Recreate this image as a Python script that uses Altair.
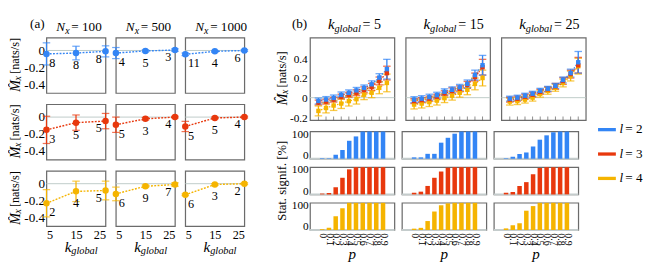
import altair as alt
import pandas as pd

FONT = "Liberation Serif"
SERIES = ["l = 2", "l = 3", "l = 4"]
COLORS = ["#3385f5", "#e8380d", "#f5b400"]
GRID = "#bccac6"
K_GLOBAL = [5, 15, 25]
N_X = [100, 500, 1000]
P_VALUES = [0.0, 0.1, 0.2, 0.3, 0.4, 0.5, 0.6, 0.7, 0.8, 0.9]

# ---------- panel (a): one inner list per N_x (100, 500, 1000), values at k_global = 5, 15, 25
a_mean_l2 = [[-0.04, -0.03, -0.01], [-0.03, -0.005, 0.005], [-0.045, -0.01, 0.0]]
a_err_l2 = [[0.13, 0.08, 0.065], [0.065, 0.012, 0.015], [0.015, 0.01, 0.01]]
a_count_l2 = [[8, 8, 8], [4, 5, 3], [11, 4, 6]]
a_mean_l3 = [[-0.15, -0.065, -0.047], [-0.09, -0.02, 0.0], [-0.11, -0.01, 0.0]]
a_err_l3 = [[0.16, 0.09, 0.09], [0.09, 0.015, 0.01], [0.06, 0.01, 0.01]]
a_count_l3 = [[3, 5, 5], [5, 3, 4], [5, 5, 4]]
a_mean_l4 = [[-0.23, -0.09, -0.08], [-0.12, -0.03, -0.01], [-0.13, -0.01, 0.0]]
a_err_l4 = [[0.16, 0.12, 0.11], [0.08, 0.015, 0.02], [0.01, 0.01, 0.01]]
a_count_l4 = [[2, 4, 5], [6, 9, 7], [6, 3, 2]]

# ---------- panel (b) top: mean estimate vs p
b_mean_k5_l2 = [-0.034, -0.019, -0.003, 0.028, 0.049, 0.074, 0.099, 0.136, 0.204, 0.29]
b_err_k5_l2 = [0.03, 0.03, 0.03, 0.03, 0.03, 0.03, 0.03, 0.035, 0.04, 0.1]
b_mean_k5_l3 = [-0.05, -0.04, -0.02, 0.01, 0.03, 0.05, 0.08, 0.11, 0.17, 0.25]
b_err_k5_l3 = [0.025, 0.025, 0.025, 0.025, 0.025, 0.03, 0.03, 0.035, 0.04, 0.07]
b_mean_k5_l4 = [-0.135, -0.105, -0.08, -0.06, -0.035, -0.015, 0.03, 0.05, 0.10, 0.15]
b_err_k5_l4 = [0.05, 0.05, 0.05, 0.05, 0.05, 0.05, 0.05, 0.05, 0.06, 0.09]
b_mean_k15_l2 = [-0.02, -0.01, 0.005, 0.025, 0.06, 0.08, 0.105, 0.14, 0.23, 0.33]
b_err_k15_l2 = [0.03, 0.03, 0.03, 0.03, 0.03, 0.03, 0.03, 0.04, 0.05, 0.1]
b_mean_k15_l3 = [-0.035, -0.025, -0.01, 0.01, 0.045, 0.07, 0.09, 0.13, 0.21, 0.31]
b_err_k15_l3 = [0.025, 0.025, 0.025, 0.025, 0.025, 0.03, 0.03, 0.035, 0.04, 0.08]
b_mean_k15_l4 = [-0.07, -0.06, -0.045, -0.03, -0.005, 0.02, 0.05, 0.08, 0.14, 0.2]
b_err_k15_l4 = [0.045, 0.045, 0.045, 0.045, 0.045, 0.045, 0.045, 0.05, 0.06, 0.08]
b_mean_k25_l2 = [-0.01, 0.0, 0.02, 0.04, 0.07, 0.09, 0.12, 0.18, 0.25, 0.36]
b_err_k25_l2 = [0.025, 0.025, 0.025, 0.025, 0.025, 0.025, 0.025, 0.03, 0.04, 0.11]
b_mean_k25_l3 = [-0.02, -0.01, 0.01, 0.03, 0.06, 0.085, 0.115, 0.17, 0.24, 0.33]
b_err_k25_l3 = [0.025, 0.025, 0.025, 0.025, 0.025, 0.025, 0.03, 0.035, 0.04, 0.08]
b_mean_k25_l4 = [-0.04, -0.035, -0.02, 0.0, 0.04, 0.07, 0.1, 0.15, 0.22, 0.32]
b_err_k25_l4 = [0.035, 0.035, 0.035, 0.035, 0.035, 0.035, 0.035, 0.04, 0.05, 0.08]

# ---------- panel (b) bottom: statistical significance [%]
sig_k5_l2 = [2, 2, 15, 32, 66, 82, 100, 100, 100, 100]
sig_k5_l3 = [3, 5, 26, 61, 92, 100, 100, 100, 100, 100]
sig_k5_l4 = [3, 8, 51, 80, 100, 100, 100, 100, 100, 100]
sig_k15_l2 = [5, 5, 18, 18, 59, 77, 92, 100, 100, 100]
sig_k15_l3 = [6, 10, 31, 61, 84, 98, 100, 100, 100, 100]
sig_k15_l4 = [5, 8, 33, 68, 91, 98, 100, 100, 100, 100]
sig_k25_l2 = [2, 7, 17, 23, 45, 70, 86, 97, 100, 100]
sig_k25_l3 = [6, 9, 31, 45, 74, 97, 100, 100, 100, 100]
sig_k25_l4 = [6, 18, 25, 71, 88, 100, 100, 100, 100, 100]

# ---------- tables
a_mean = [a_mean_l2, a_mean_l3, a_mean_l4]
a_err = [a_err_l2, a_err_l3, a_err_l4]
a_count = [a_count_l2, a_count_l3, a_count_l4]
rows = []
for si, s in enumerate(SERIES):
    for ni, nx in enumerate(N_X):
        for ki, k in enumerate(K_GLOBAL):
            m, e = a_mean[si][ni][ki], a_err[si][ni][ki]
            rows.append({"series": s, "nx": nx, "nx_label": f"= {nx}", "k": k, "mean": m,
                         "lo": m - e, "hi": m + e, "count": str(a_count[si][ni][ki])})
df_a = pd.DataFrame(rows)

b_mean = {5: [b_mean_k5_l2, b_mean_k5_l3, b_mean_k5_l4],
          15: [b_mean_k15_l2, b_mean_k15_l3, b_mean_k15_l4],
          25: [b_mean_k25_l2, b_mean_k25_l3, b_mean_k25_l4]}
b_err = {5: [b_err_k5_l2, b_err_k5_l3, b_err_k5_l4],
         15: [b_err_k15_l2, b_err_k15_l3, b_err_k15_l4],
         25: [b_err_k25_l2, b_err_k25_l3, b_err_k25_l4]}
sig = {5: [sig_k5_l2, sig_k5_l3, sig_k5_l4],
       15: [sig_k15_l2, sig_k15_l3, sig_k15_l4],
       25: [sig_k25_l2, sig_k25_l3, sig_k25_l4]}
rows_b, rows_s = [], []
for k in K_GLOBAL:
    for si in [2, 1, 0]:
        for pi, p in enumerate(P_VALUES):
            m, e = b_mean[k][si][pi], b_err[k][si][pi]
            rows_b.append({"k": k, "k_label": f"= {k}", "series": SERIES[si], "p": p,
                           "mean": m, "lo": m - e, "hi": m + e})
            rows_s.append({"k": k, "series": SERIES[si], "p": p, "sig": sig[k][si][pi]})
df_b = pd.DataFrame(rows_b)
df_s = pd.DataFrame(rows_s)

LBL = ("datum.value == 0 ? '0' : (datum.value < 0 ? '-' + format(-datum.value, '.1f') "
       ": format(datum.value, '.1f'))")
PLBL = "datum.value == 0 ? '0' : format(datum.value, '.1f')"
col = alt.Color("series:N", scale=alt.Scale(domain=SERIES, range=COLORS), legend=None)
base = alt.Chart()


def note(x, y, filt, text=None, field=None, size=14, italic=False, angle=0,
         align="left", baseline="alphabetic"):
    mk = dict(align=align, baseline=baseline, fontSize=size, font=FONT, color="black")
    if italic:
        mk["fontStyle"] = "italic"
    if angle:
        mk["angle"] = angle
    if text is not None:
        mk["text"] = text
    enc = dict(x=alt.value(x), y=alt.value(y))
    if field is not None:
        enc["text"] = alt.Text(f"{field}:N")
    return base.mark_text(**mk).encode(**enc).transform_filter(filt)


# ================= panel (a)
W_A, H_A = 63, 59


def ax_ax(field):
    return alt.X(f"{field}:Q", scale=alt.Scale(domain=[5, 25], nice=False, zero=False),
                 axis=alt.Axis(values=K_GLOBAL, title=None, ticks=False, domain=False, grid=False,
                               labelFlush=True, labelFontSize=13, labelPadding=3))


def ax_ay(field):
    return alt.Y(f"{field}:Q", scale=alt.Scale(domain=[-0.5, 0.15], nice=False, zero=False),
                 axis=alt.Axis(values=[0, -0.2, -0.4], title=None, ticks=False, domain=False,
                               grid=False, labelExpr=LBL, labelFontSize=14, labelPadding=2))


a_zero = base.mark_rule(color=GRID, strokeWidth=1).transform_filter(
    alt.datum.k == 5).transform_calculate(zero="0").encode(y=ax_ay("zero"))
a_line = base.mark_line(strokeDash=[2, 1.5], strokeWidth=1.5).encode(
    x=ax_ax("k"), y=ax_ay("mean"), color=col)
a_err_l = base.mark_errorbar(ticks=True, size=8, thickness=1.3).encode(
    x=ax_ax("k"), y=ax_ay("lo"), y2="hi:Q", color=col)
a_pts = base.mark_circle(size=48, opacity=1).encode(x=ax_ax("k"), y=ax_ay("mean"), color=col)


def a_num(kv, align, dx, dy):
    return base.mark_text(align=align, baseline="middle", dx=dx, dy=dy, fontSize=13,
                          font=FONT, color="black").encode(
        x=ax_ax("k"), y=ax_ay("mean"), text="count:N").transform_filter(alt.datum.k == kv)


first_cell = (alt.datum.nx == 100) & (alt.datum.k == 5) & (alt.datum.series == "l = 2")
head_a = (alt.datum.k == 5) & (alt.datum.series == "l = 2")
ytit_a = (alt.datum.nx == 100) & (alt.datum.k == 5)
xtit_a = (alt.datum.k == 5) & (alt.datum.series == "l = 4")

layers_a = [
    a_zero, a_line, a_err_l, a_pts,
    a_num(5, "left", 3, 10), a_num(15, "center", 0, 13), a_num(25, "right", -4, 8),
    note(-2, -14, first_cell, text="(a)", size=14, align="right", baseline="middle"),
    note(W_A / 2 - 21, -7, head_a, text="N", size=14, italic=True),
    note(W_A / 2 - 11.5, -4.5, head_a, text="x", size=10.5, italic=True),
    note(W_A / 2 - 5, -7, head_a, field="nx_label", size=14),
    note(-33, H_A / 2 + 28, ytit_a, text="M\u0302", size=15, italic=True, angle=270,
         baseline="middle"),
    note(-30, H_A / 2 + 16, ytit_a, text="x", size=10.5, italic=True, angle=270,
         baseline="middle"),
    note(-33, H_A / 2 + 9, ytit_a, text="[nats/s]", size=13, angle=270, baseline="middle"),
    note(W_A / 2 - 12, H_A + 27, xtit_a, text="k", size=16, italic=True),
    note(W_A / 2 - 5, H_A + 30, xtit_a, text="global", size=11, italic=True),
]
chart_a = alt.layer(*layers_a).properties(width=W_A, height=H_A).facet(
    row=alt.Row("series:N", sort=SERIES, header=None),
    column=alt.Column("nx:O", header=None),
    data=df_a, spacing={"row": 12, "column": 11}, bounds="flush")

# ================= panel (b) top (three separate panels)
W_B, H_B, H_S = 90, 88, 29
XB = alt.Scale(domain=[-0.11, 1.0], nice=False, zero=False)
TX = -30  # x of the rotated y titles of panel (b)


def ax_bx(field):
    return alt.X(f"{field}:Q", scale=XB,
                 axis=alt.Axis(values=P_VALUES, labels=False, title=None, domain=False, grid=False,
                               ticks=False))


def ax_by(field, show):
    return alt.Y(f"{field}:Q", scale=alt.Scale(domain=[-0.23, 0.61], nice=False, zero=False),
                 axis=alt.Axis(values=[-0.2, 0, 0.2, 0.4], title=None, domain=False, grid=False,
                               ticks=False, labels=show, labelExpr=LBL, labelFontSize=12,
                               labelPadding=3))


one_b = (alt.datum.p == 0) & (alt.datum.series == "l = 2")


def top_panel(kv, first):
    layers = [
        base.mark_rule(color=GRID, strokeWidth=1).transform_filter(one_b).transform_calculate(
            zero="0").encode(y=ax_by("zero", first)),
        base.mark_tick(orient="vertical", size=4, thickness=1, color="#555").transform_filter(
            alt.datum.series == "l = 2").encode(x=ax_bx("p"), y=alt.value(H_B - 2)),
        base.mark_line(strokeDash=[1.5, 1.5], strokeWidth=1.3).encode(
            x=ax_bx("p"), y=ax_by("mean", first), color=col),
        base.mark_errorbar(ticks=True, size=8, thickness=1.4).encode(
            x=ax_bx("p"), y=ax_by("lo", first), y2="hi:Q", color=col),
        base.mark_point(filled=True, shape="square", size=22, opacity=1).encode(
            x=ax_bx("p"), y=ax_by("mean", first), color=col),
        note(W_B / 2 - 26, -9, one_b, text="k", size=16, italic=True),
        note(W_B / 2 - 19, -6, one_b, text="global", size=11, italic=True),
        note(W_B / 2 + 11, -9, one_b, field="k_label", size=15),
    ]
    if first:
        layers += [
            note(-3, -14, one_b, text="(b)", size=14, align="right", baseline="middle"),
            note(TX, H_B / 2 + 28, one_b, text="M\u0302", size=15, italic=True, angle=270,
                 baseline="middle"),
            note(TX + 3, H_B / 2 + 16, one_b, text="x", size=10.5, italic=True, angle=270,
                 baseline="middle"),
            note(TX, H_B / 2 + 9, one_b, text="[nats/s]", size=13, angle=270,
                 baseline="middle"),
        ]
    return alt.layer(*layers, data=df_b).transform_filter(alt.datum.k == kv).properties(
        width=W_B, height=H_B)


chart_b_top = alt.hconcat(*[top_panel(k, i == 0) for i, k in enumerate(K_GLOBAL)], spacing=8)

# ================= panel (b) bars


def ax_sx(field):
    return alt.X(f"{field}:Q", scale=XB,
                 axis=alt.Axis(values=P_VALUES, title=None, domain=False, grid=False, ticks=False,
                               labelAngle=90, labelFontSize=10.5, labelOverlap=False,
                               labelPadding=3, labelExpr=PLBL))


def ax_sy(field):
    return alt.Y(f"{field}:Q", scale=alt.Scale(domain=[0, 100], nice=False, zero=True),
                 axis=alt.Axis(values=[0, 100], title=None, domain=False, grid=False, ticks=False,
                               labelFontSize=12, labelPadding=2, labelFlush=True,
                               labelFlushOffset=3))


s_base = base.mark_rule(color="#c4cccc", strokeWidth=2).transform_filter(
    alt.datum.p == 0).transform_calculate(zero="0").encode(y=ax_sy("zero"))
s_bars = base.mark_bar(size=4.8).encode(x=ax_sx("p"), y=ax_sy("sig"), color=col)
mid_s = (alt.datum.p == 0) & (alt.datum.series == "l = 3") & (alt.datum.k == 5)
bot_s = (alt.datum.p == 0) & (alt.datum.series == "l = 4")
layers_s = [
    s_base, s_bars,
    note(TX, H_S / 2, mid_s, text="Stat. signif. [%]", size=13.5, angle=270, align="center",
         baseline="middle"),
    note(W_B / 2, H_S + 31, bot_s, text="p", size=16, italic=True, align="center"),
]
chart_s = alt.layer(*layers_s).properties(width=W_B, height=H_S).facet(
    row=alt.Row("series:N", sort=SERIES, header=None),
    column=alt.Column("k:O", header=None),
    data=df_s, spacing={"row": 9, "column": 8}, bounds="flush")

chart_b = alt.vconcat(chart_b_top, chart_s, spacing=4)

# ================= legend
df_leg = pd.DataFrame({"series": SERIES, "l": [2, 3, 4], "eq": ["= 2", "= 3", "= 4"]})
yl = alt.Y("l:Q", scale=alt.Scale(domain=[-1.77, 4.77], reverse=True, nice=False, zero=False),
           axis=None)
leg = alt.layer(
    alt.Chart(df_leg).mark_rule(strokeWidth=3.5).encode(
        x=alt.value(0), x2=alt.value(19), y=yl, color=col),
    alt.Chart(df_leg).mark_text(text="l", fontStyle="italic", fontSize=14, font=FONT,
                                align="left", baseline="middle", color="black").encode(
        x=alt.value(23), y=yl),
    alt.Chart(df_leg).mark_text(fontSize=14, font=FONT, align="left", baseline="middle",
                                color="black").encode(x=alt.value(29), y=yl, text="eq:N"),
).properties(width=45, height=170, view=alt.ViewBackground(stroke="transparent"))

chart = alt.hconcat(
    chart_a, alt.hconcat(chart_b, leg, spacing=8), spacing=27, padding=0
).configure(font=FONT).configure_view(stroke="#6b6b6b", strokeWidth=1.3).configure_axis(
    labelFont=FONT, labelColor="black")

chart.save("out.html", embed_options={"renderer": "svg", "actions": False})
